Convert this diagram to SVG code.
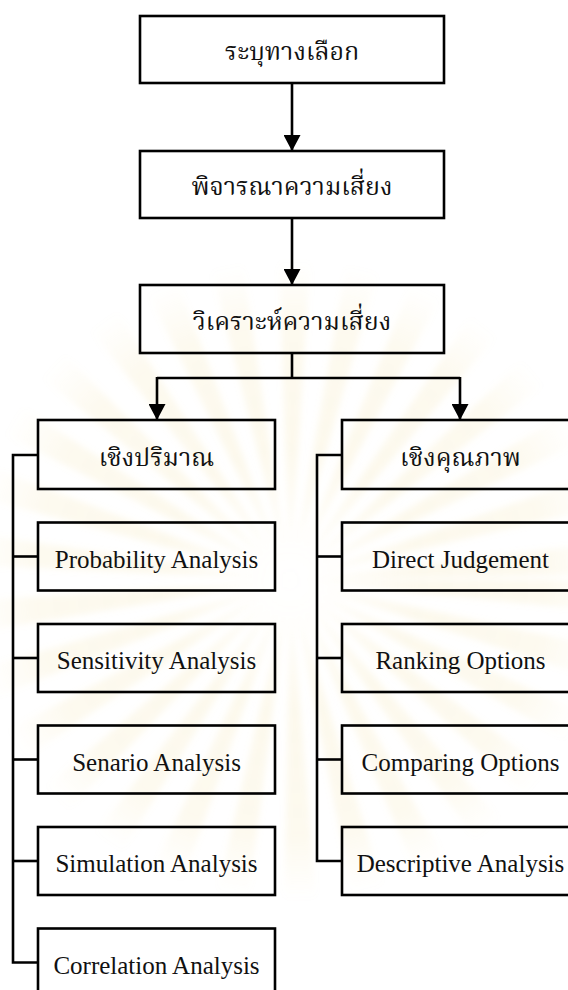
<svg xmlns="http://www.w3.org/2000/svg" width="568" height="990" viewBox="0 0 568 990">
  <defs>
    <style>
      .box { fill: none; stroke: #000; stroke-width: 2.6; }
      .wire { fill: none; stroke: #000; stroke-width: 2.6; }
      .th { font-family: "Noto Serif Thai", "Norasi", "Liberation Serif", serif; font-size: 25px; fill: #111; text-anchor: middle; }
      .en { font-family: "Liberation Serif", serif; font-size: 25px; fill: #111; text-anchor: middle; }
    </style>
    <marker id="arrow" viewBox="0 0 16 17" refX="16" refY="8.5" markerWidth="16" markerHeight="17" markerUnits="userSpaceOnUse" orient="auto">
      <path d="M0,0 L16,8.5 L0,17 Z" fill="#000"/>
    </marker>
    <radialGradient id="rayFade" gradientUnits="userSpaceOnUse" cx="290" cy="580" r="320">
      <stop offset="0" stop-color="#f1dc9a" stop-opacity="0"/>
      <stop offset="0.4" stop-color="#f1dc9a" stop-opacity="0.18"/>
      <stop offset="0.8" stop-color="#f1dc9a" stop-opacity="0.16"/>
      <stop offset="1" stop-color="#f1dc9a" stop-opacity="0"/>
    </radialGradient>
    <filter id="soft" filterUnits="userSpaceOnUse" x="0" y="0" width="568" height="990">
      <feGaussianBlur stdDeviation="3"/>
    </filter>
  </defs>

  <rect width="568" height="990" fill="#fff"/>

  <!-- faint sunburst emblem in the background -->
  <g id="backdrop" filter="url(#soft)">
    <circle cx="290" cy="580" r="160" fill="none" stroke="url(#rayFade)" stroke-width="320" stroke-dasharray="16 18"/>
  </g>

  <!-- connectors -->
  <g id="connectors">
    <line class="wire" x1="292" y1="83" x2="292" y2="151" marker-end="url(#arrow)"/>
    <line class="wire" x1="292" y1="218" x2="292" y2="285" marker-end="url(#arrow)"/>
    <polyline class="wire" points="292,353 292,378"/>
    <polyline class="wire" points="157,378 460,378"/>
    <line class="wire" x1="157" y1="377" x2="157" y2="420" marker-end="url(#arrow)"/>
    <line class="wire" x1="460" y1="377" x2="460" y2="420" marker-end="url(#arrow)"/>
    <!-- quantitative branch -->
    <polyline class="wire" points="38,455 13,455 13,962.5 38,962.5"/>
    <line class="wire" x1="13" y1="556.5" x2="38" y2="556.5"/>
    <line class="wire" x1="13" y1="658" x2="38" y2="658"/>
    <line class="wire" x1="13" y1="759.5" x2="38" y2="759.5"/>
    <line class="wire" x1="13" y1="861" x2="38" y2="861"/>
    <!-- qualitative branch -->
    <polyline class="wire" points="342,455 317,455 317,861 342,861"/>
    <line class="wire" x1="317" y1="556.5" x2="342" y2="556.5"/>
    <line class="wire" x1="317" y1="658" x2="342" y2="658"/>
    <line class="wire" x1="317" y1="759.5" x2="342" y2="759.5"/>
  </g>

  <g id="identify">
    <rect class="box" x="140" y="16" width="304" height="67"/>
    <text class="th" x="292" y="60">ระบุทางเลือก</text>
  </g>
  <g id="consider">
    <rect class="box" x="140" y="151" width="304" height="67"/>
    <text class="th" x="292" y="195">พิจารณาความเสี่ยง</text>
  </g>
  <g id="analyse">
    <rect class="box" x="140" y="285" width="304" height="68"/>
    <text class="th" x="292" y="330">วิเคราะห์ความเสี่ยง</text>
  </g>

  <g id="quantitative">
    <rect class="box" x="38" y="420" width="237" height="69"/>
    <text class="th" x="156.5" y="466">เชิงปริมาณ</text>
  </g>
  <g id="probability">
    <rect class="box" x="38" y="522.5" width="237" height="68"/>
    <text class="en" x="156.5" y="567.5">Probability Analysis</text>
  </g>
  <g id="sensitivity">
    <rect class="box" x="38" y="624" width="237" height="68"/>
    <text class="en" x="156.5" y="669">Sensitivity Analysis</text>
  </g>
  <g id="scenario">
    <rect class="box" x="38" y="725.5" width="237" height="68"/>
    <text class="en" x="156.5" y="770.5">Senario Analysis</text>
  </g>
  <g id="simulation">
    <rect class="box" x="38" y="827" width="237" height="68"/>
    <text class="en" x="156.5" y="872">Simulation Analysis</text>
  </g>
  <g id="correlation">
    <rect class="box" x="38" y="928.5" width="237" height="68"/>
    <text class="en" x="156.5" y="973.5">Correlation Analysis</text>
  </g>

  <g id="qualitative">
    <rect class="box" x="342" y="420" width="237" height="69"/>
    <text class="th" x="460.5" y="466">เชิงคุณภาพ</text>
  </g>
  <g id="direct">
    <rect class="box" x="342" y="522.5" width="237" height="68"/>
    <text class="en" x="460.5" y="567.5">Direct Judgement</text>
  </g>
  <g id="ranking">
    <rect class="box" x="342" y="624" width="237" height="68"/>
    <text class="en" x="460.5" y="669">Ranking Options</text>
  </g>
  <g id="comparing">
    <rect class="box" x="342" y="725.5" width="237" height="68"/>
    <text class="en" x="460.5" y="770.5">Comparing Options</text>
  </g>
  <g id="descriptive">
    <rect class="box" x="342" y="827" width="237" height="68"/>
    <text class="en" x="460.5" y="872">Descriptive Analysis</text>
  </g>
</svg>
